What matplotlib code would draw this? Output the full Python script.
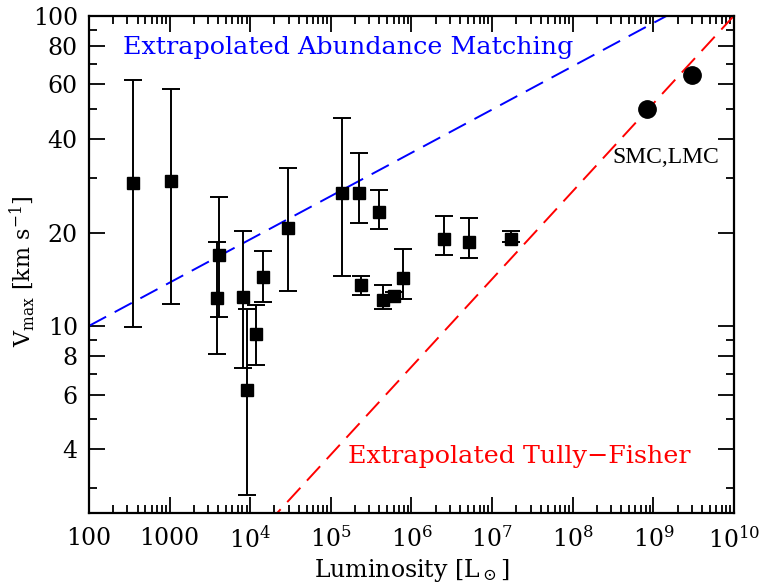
import numpy as np
import matplotlib
matplotlib.use("Agg")
import matplotlib.pyplot as plt
from matplotlib.ticker import FixedLocator, FixedFormatter, NullFormatter

# --- data ---
# dwarf satellites: luminosity [Lsun], Vmax and error bar ends [km/s]
lum = [349, 1030, 4140, 3840, 8210, 9050, 11700, 14500, 29200, 139000,
       222000, 237000, 400000, 448000, 614000, 794000, 2.56e6, 5.23e6, 1.72e7]
vmax = [28.8, 29.3, 16.9, 12.3, 12.4, 6.23, 9.4, 14.4, 20.7, 26.8,
        26.8, 13.5, 23.3, 12.1, 12.5, 14.3, 19.0, 18.7, 19.1]
vmax_hi = [61.9, 58.0, 26.1, 18.6, 20.3, 11.3, 11.7, 17.5, 32.2, 46.7,
           36.1, 14.5, 27.5, 13.5, 12.9, 17.7, 22.6, 22.2, 20.3]
vmax_lo = [9.9, 11.8, 10.7, 8.13, 7.33, 2.85, 7.5, 11.9, 12.95, 14.5,
           21.4, 12.6, 20.6, 11.3, 12.2, 12.2, 16.9, 16.5, 18.6]

# SMC, LMC
mc_lum = [8.45e8, 3.05e9]
mc_vmax = [50.2, 64.2]

# extrapolated relations (end points, running past the frame)
abund_lum = [1e2, 1e10]
abund_v = [10.0, 130.6]
tf_lum = [1e2, 1e10]
tf_v = [0.545, 100.0]

xticks = [1e2, 1e3, 1e4, 1e5, 1e6, 1e7, 1e8, 1e9, 1e10]
xticklabels = ['100', '1000', r'$10^4$', r'$10^5$', r'$10^6$', r'$10^7$',
               r'$10^8$', r'$10^9$', r'$10^{10}$']
yticks = [4, 6, 8, 10, 20, 40, 60, 80, 100]
yticklabels = ['4', '6', '8', '10', '20', '40', '60', '80', '100']
yminor = [3, 5, 7, 9, 30, 50, 70, 90]

plt.rcParams['font.family'] = 'DejaVu Serif'
plt.rcParams['mathtext.fontset'] = 'dejavuserif'

fig = plt.figure(figsize=(7.63, 5.87), dpi=100)
ax = fig.add_axes([0.1166, 0.1266, 0.8454, 0.8467])

lum = np.array(lum)
vmax = np.array(vmax)
yerr = [vmax - np.array(vmax_lo), np.array(vmax_hi) - vmax]
ax.errorbar(lum, vmax, yerr=yerr, fmt='s', color='black', ms=9,
            elinewidth=1.4, capsize=6.5, capthick=1.4, zorder=3)
ax.plot(mc_lum, mc_vmax, 'o', color='black', ms=12.5, zorder=3)

ax.plot(abund_lum, abund_v, color='blue', lw=1.4, dashes=(10, 5))
ax.plot(tf_lum, tf_v, color='red', lw=1.4, dashes=(10, 5))

ax.text(264, 79, 'Extrapolated Abundance Matching', color='blue',
        fontsize=18.3, ha='left', va='center')
ax.text(1.63e5, 3.8, 'Extrapolated Tully\u2212Fisher', color='red',
        fontsize=18.3, ha='left', va='center')
ax.text(3.1e8, 35, 'SMC,LMC', color='black', fontsize=17,
        family='Liberation Serif', ha='left', va='center')

ax.set_xscale('log')
ax.set_yscale('log')
ax.set_xlim(1e2, 1e10)
ax.set_ylim(2.5, 100)

ax.xaxis.set_major_locator(FixedLocator(xticks))
ax.xaxis.set_major_formatter(FixedFormatter(xticklabels))
ax.xaxis.set_minor_formatter(NullFormatter())
ax.yaxis.set_major_locator(FixedLocator(yticks))
ax.yaxis.set_major_formatter(FixedFormatter(yticklabels))
ax.yaxis.set_minor_locator(FixedLocator(yminor))
ax.yaxis.set_minor_formatter(NullFormatter())

ax.tick_params(which='both', direction='in', top=True, right=True,
               width=1.3, labelsize=17, colors='black')
ax.tick_params(axis='x', which='major', length=11.5, pad=10)
ax.tick_params(axis='y', which='major', length=11.5, pad=8)
ax.tick_params(which='minor', length=6)
for s in ax.spines.values():
    s.set_linewidth(1.6)

ax.set_xlabel(r'Luminosity [L$_\odot$]', fontsize=17)
ax.xaxis.set_label_coords(0.5, -0.09)
ax.set_ylabel(r'V$_{\mathrm{max}}$ [km s$^{-1}$]', fontsize=16)
ax.yaxis.set_label_coords(-0.08, 0.486)

fig.savefig('out.png', dpi=100)
